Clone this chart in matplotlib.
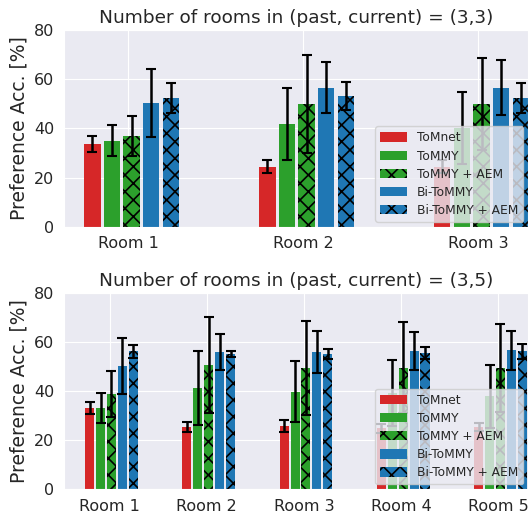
import numpy as np
import matplotlib
matplotlib.use("Agg")
import matplotlib.pyplot as plt
import seaborn as sns

sns.set_style("darkgrid")
plt.rcParams['font.family'] = ['DejaVu Sans']
plt.rcParams['hatch.linewidth'] = 1.2

methods = ["ToMnet", "ToMMY", "ToMMY + AEM", "Bi-ToMMY", "Bi-ToMMY + AEM"]
colors = ["#d62728", "#2ca02c", "#2ca02c", "#1f77b4", "#1f77b4"]
hatches = [None, None, "xx", None, "xx"]

rooms_33 = ["Room 1", "Room 2", "Room 3"]
# rows: methods, cols: rooms
mean_33 = [
    [33.8, 24.4, 24.4],
    [35.0, 41.9, 40.2],
    [37.0, 50.1, 50.1],
    [50.5, 56.6, 56.6],
    [52.5, 53.3, 52.5],
]
err_33 = [
    [3.3, 2.7, 2.7],
    [6.3, 14.7, 14.7],
    [8.0, 20.0, 18.8],
    [13.8, 10.4, 11.3],
    [6.2, 5.7, 6.1],
]

rooms_35 = ["Room 1", "Room 2", "Room 3", "Room 4", "Room 5"]
mean_35 = [
    [33.1, 25.4, 25.8, 24.8, 25.4],
    [33.1, 41.3, 39.7, 39.3, 37.9],
    [38.9, 50.6, 49.5, 49.5, 49.5],
    [50.3, 56.0, 56.0, 56.4, 56.8],
    [56.4, 55.2, 55.2, 55.6, 56.4],
]
err_35 = [
    [2.4, 2.0, 2.6, 1.9, 1.5],
    [6.0, 15.2, 12.5, 13.6, 13.0],
    [9.4, 19.7, 19.1, 18.6, 17.9],
    [11.6, 7.2, 8.7, 7.8, 8.0],
    [2.7, 1.2, 2.2, 2.3, 3.1],
]

W, H = 528, 517
fig = plt.figure(figsize=(W / 100, H / 100), dpi=100)


def panel(rect, rooms, means, errs, title, xlim):
    ax = fig.add_axes(rect)
    x = np.arange(len(rooms))
    for i, m in enumerate(methods):
        ax.bar(x - 0.25 + 0.112 * i, means[i], width=0.093, align="edge",
               color=colors[i], hatch=hatches[i], edgecolor="black",
               linewidth=0, label=m, zorder=2)
        ax.errorbar(x - 0.25 + 0.112 * i + 0.0465, means[i], yerr=errs[i],
                    fmt="none", ecolor="black", elinewidth=1.8, capsize=3.5,
                    capthick=1.5, zorder=3)
    ax.set_xticks(x)
    ax.set_xticklabels(rooms, fontsize=11.5, color="0.15")
    ax.set_ylim(0, 80)
    ax.set_yticks([0, 20, 40, 60, 80])
    ax.tick_params(axis="y", labelsize=11.5, labelcolor="0.15")
    ax.set_xlim(*xlim)
    ax.set_ylabel("Preference Acc. [%]", fontsize=13.5, color="0.15")
    ax.set_title(title, fontsize=13.3, color="0.15", pad=5)
    leg = ax.legend(loc="lower right", fontsize=8.8, handlelength=2.2,
                    handleheight=0.8, labelspacing=0.42,
                    framealpha=0.8, borderaxespad=0.4)
    leg.set_zorder(5)
    return ax


panel([64 / W, 1 - 226.7 / H, 464 / W, 196.4 / H], rooms_33, mean_33, err_33,
      "Number of rooms in (past, current) = (3,3)", (-0.366, 2.286))
panel([64 / W, 1 - 489 / H, 464 / W, 195.6 / H], rooms_35, mean_35, err_35,
      "Number of rooms in (past, current) = (3,5)", (-0.468, 4.304))

fig.savefig("out.png", dpi=100)
